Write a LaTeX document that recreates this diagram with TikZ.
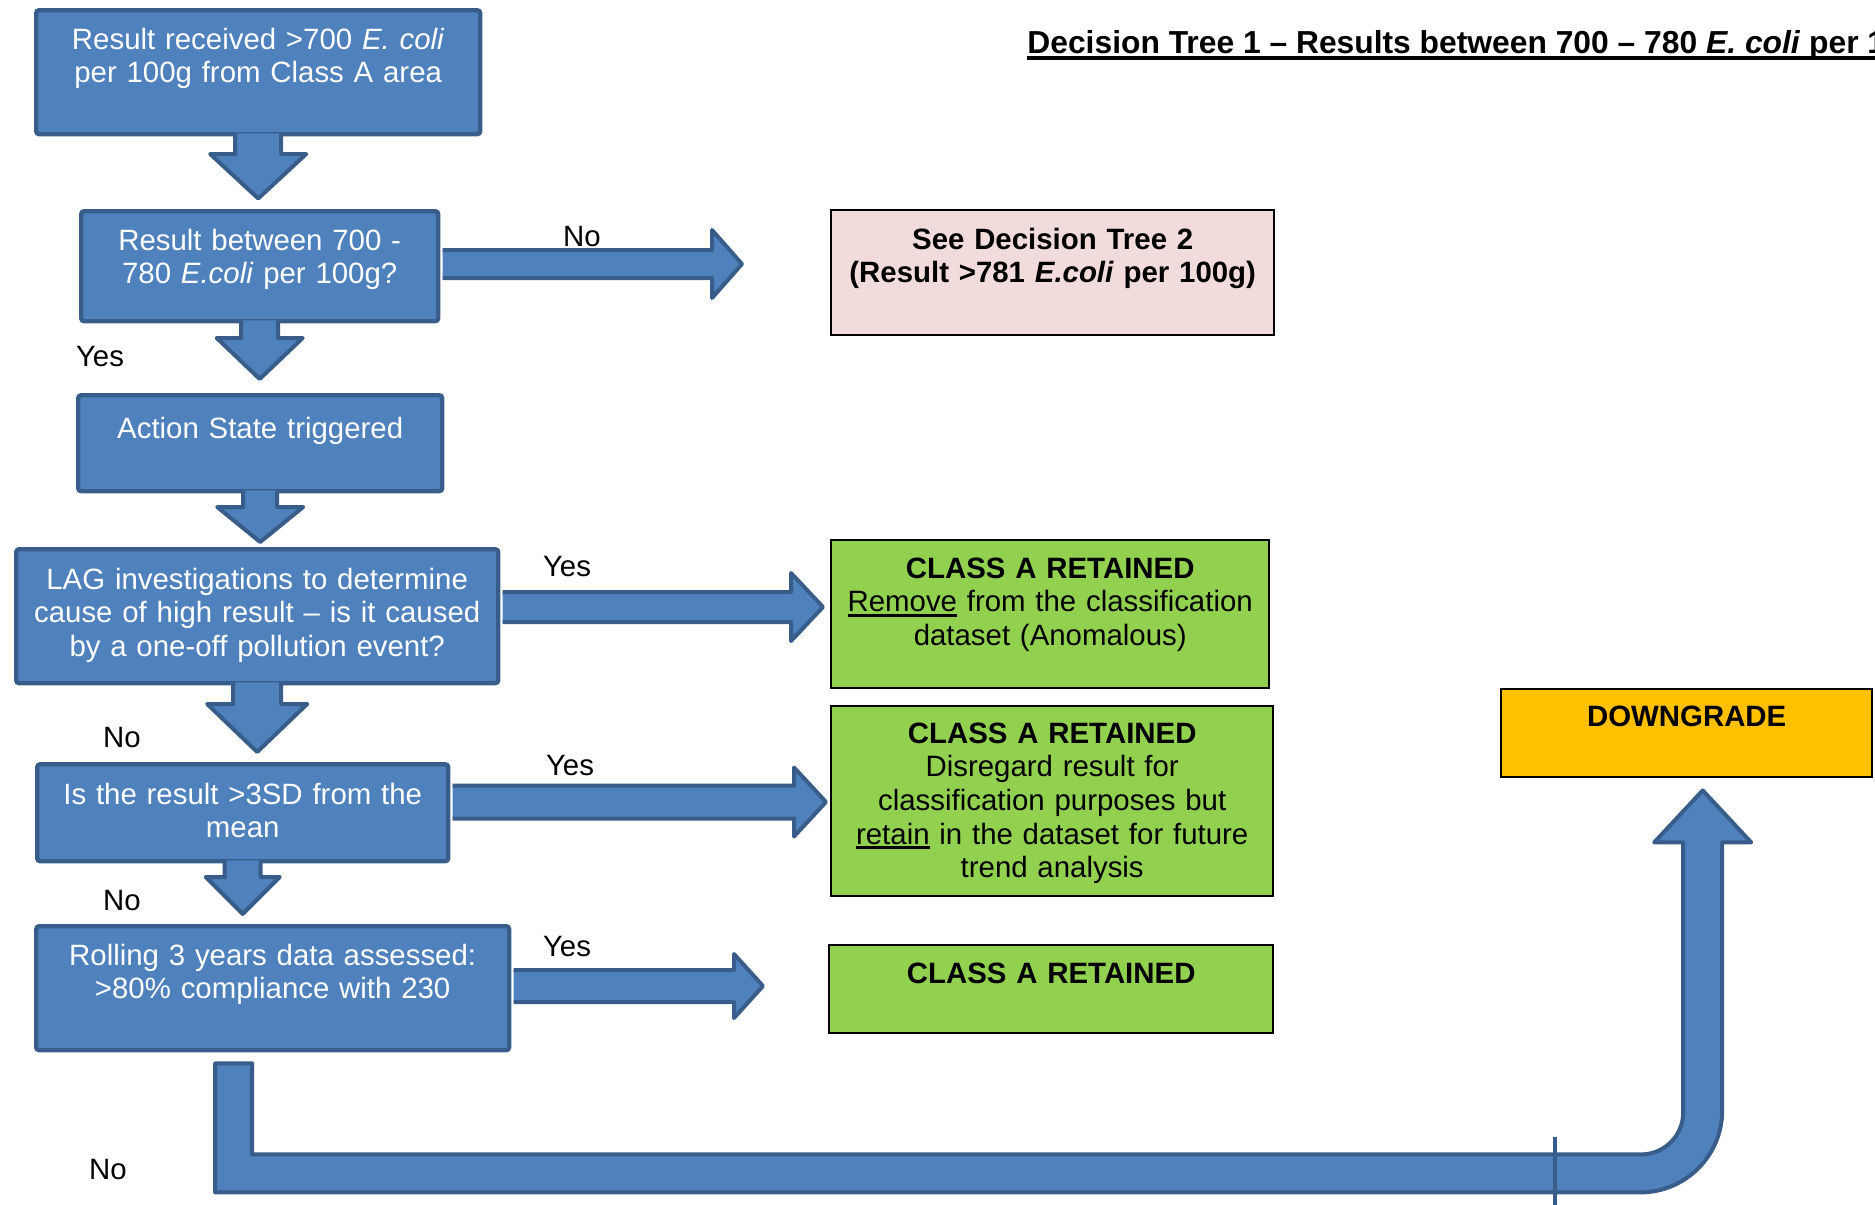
\documentclass[tikz,border=0pt]{standalone}
\usepackage{fontspec}
\setmainfont{Liberation Sans}
\usepackage{tikz}
\usetikzlibrary{calc}
\definecolor{boxblue}{HTML}{4F81BD}
\definecolor{lineblue}{HTML}{385D8A}
\definecolor{pinkfill}{HTML}{F2DCDB}
\definecolor{greenfill}{HTML}{92D050}
\definecolor{amber}{HTML}{FFC000}

\newcommand{\ulined}[1]{\leavevmode\setbox0\hbox{#1}\rlap{\rule[-2.4pt]{\wd0}{1.2pt}}\box0\relax}

% block arrow down: from, tip, shaft half, head half, head length
\newcommand{\blockdown}[5]{%
  \fill[boxblue] let \p1=([yshift=1.5pt]#1.south), \p2=(#2) in
    (\x1-#3,\y1) -- (\x1-#3,\y2+#5) -- (\x1-#4,\y2+#5) -- (\x1,\y2)
    -- (\x1+#4,\y2+#5) -- (\x1+#3,\y2+#5) -- (\x1+#3,\y1) -- cycle;
  \draw[blockedge] let \p1=([yshift=1.5pt]#1.south), \p2=(#2) in
    (\x1-#3,\y1) -- (\x1-#3,\y2+#5) -- (\x1-#4,\y2+#5) -- (\x1,\y2)
    -- (\x1+#4,\y2+#5) -- (\x1+#3,\y2+#5) -- (\x1+#3,\y1);
}
% block arrow right: from, tip, shaft half, head half, head length
\newcommand{\blockright}[5]{%
  \fill[boxblue] let \p1=([xshift=1.1pt]#1.east), \p2=(#2) in
    (\x1,\y2+#3) -- (\x2-#5,\y2+#3) -- (\x2-#5,\y2+#4) -- (\x2,\y2)
    -- (\x2-#5,\y2-#4) -- (\x2-#5,\y2-#3) -- (\x1,\y2-#3) -- cycle;
  \draw[blockedge] let \p1=([xshift=1.1pt]#1.east), \p2=(#2) in
    (\x1,\y2+#3) -- (\x2-#5,\y2+#3) -- (\x2-#5,\y2+#4) -- (\x2,\y2)
    -- (\x2-#5,\y2-#4) -- (\x2-#5,\y2-#3) -- (\x1,\y2-#3);
}

\begin{document}
\begin{tikzpicture}[x=0.5pt,y=-0.5pt]
    \useasboundingbox (0,0) rectangle (1875,1205);
    \clip (0,0) rectangle (1875,1205);

    \tikzstyle{flow}=[draw=lineblue,fill=boxblue,line width=2.2pt,rounded corners=1.5pt,text=white,inner sep=0pt,align=center,anchor=north west,font=\fontsize{14.7}{16.8}\selectfont]
    \tikzstyle{outcome}=[draw=black,line width=1.2pt,text=black,inner sep=0pt,align=center,anchor=north west,font=\fontsize{14.7}{16.8}\selectfont]
    \tikzstyle{lbl}=[inner sep=0pt,text height=10.5pt,text depth=0pt,font=\fontsize{14.7}{16.8}\selectfont]
    \tikzstyle{blockedge}=[draw=lineblue,line width=2pt,line join=round]

    \node[font=\fontsize{15.9}{19}\selectfont\bfseries,inner sep=0pt,anchor=base west] (title) at (1027,53)
        {Decision Tree 1 – Results between 700 – 780 \textit{E. coli} per 100g};
    \draw[line width=1.9pt] ([yshift=-2.5pt]title.base west) -- ([yshift=-2.5pt]title.base east);

    \node[flow,text width=222pt,text height=19.5pt,text depth=42.5pt] (recv) at (34,8)
        {Result received >700 \textit{E. coli}\\per 100g from Class A area};
    \node[flow,text width=178.5pt,text height=19.5pt,text depth=35.5pt] (between) at (79,209)
        {Result between 700 -\\780 \textit{E.coli} per 100g?};
    \node[flow,text width=182pt,text height=21.5pt,text depth=26.5pt] (action) at (76,393)
        {Action State triggered};
    \node[flow,text width=241pt,text height=20pt,text depth=47pt] (lag) at (14,547)
        {LAG investigations to determine\\cause of high result – is it caused\\by a one-off pollution event?};
    \node[flow,text width=205.5pt,text height=20pt,text depth=28.5pt] (sd) at (35,762)
        {Is the result >3SD from the\\mean};
    \node[flow,text width=236.5pt,text height=19.5pt,text depth=42.5pt] (rolling) at (34,924)
        {Rolling 3 years data assessed:\\>80\% compliance with 230};

    \node[outcome,fill=pinkfill,text width=221.5pt,text height=19.5pt,text depth=43pt] (tree2) at (830,209)
        {\bfseries See Decision Tree 2\\\bfseries(Result >781 \textit{E.coli} per 100g)};
    \node[outcome,fill=greenfill,text width=219pt,text height=19pt,text depth=55pt] (keepA) at (830,539)
        {\textbf{CLASS A RETAINED}\\\ulined{Remove} from the classification\\dataset (Anomalous)};
    \node[outcome,fill=greenfill,text width=221pt,text height=18.5pt,text depth=76.5pt] (keepB) at (830,705)
        {\textbf{CLASS A RETAINED}\\Disregard result for\\classification purposes but\\\ulined{retain} in the dataset for future\\trend analysis};
    \node[outcome,fill=greenfill,text width=222pt,text height=19pt,text depth=25pt] (keepC) at (828,944)
        {\textbf{CLASS A RETAINED}};
    \node[outcome,fill=amber,text width=185.5pt,text height=18.5pt,text depth=25.5pt] (down) at (1500,688)
        {\textbf{DOWNGRADE}};

    \coordinate (noTip) at (742,264);
    \coordinate (yesTipA) at (823,607);
    \coordinate (yesTipB) at (826,802);
    \coordinate (yesTipC) at (763,986);
    \coordinate (uStart) at ([xshift=-19.5pt,yshift=-5.5pt]rolling.south);
    \coordinate (uTip) at ([xshift=8pt,yshift=-6pt]down.south);

    \blockdown{recv}{[yshift=5.25pt]between.north}{11.5pt}{24pt}{22.25pt}
    \blockdown{between}{[yshift=7pt]action.north}{9.25pt}{21.5pt}{20.5pt}
    \blockdown{action}{[yshift=2.5pt]lag.north}{8.5pt}{21.5pt}{17.5pt}
    \blockdown{lag}{[yshift=5pt]sd.north}{12pt}{25pt}{24pt}
    \blockdown{sd}{[yshift=5pt]rolling.north}{9pt}{18.5pt}{18.5pt}

    \blockright{between}{noTip}{7pt}{17pt}{15pt}
    \blockright{lag}{yesTipA}{7.5pt}{17pt}{16pt}
    \blockright{sd}{yesTipB}{8.25pt}{17.25pt}{16pt}
    \blockright{rolling}{yesTipC}{8pt}{16pt}{14.5pt}

    % long bent arrow to DOWNGRADE
    \filldraw[fill=boxblue,blockedge] let \p1=(uStart), \p2=(uTip) in
        (\x1-9.25pt,\y1) -- (\x1-9.25pt,\y1-64.5pt) -- (\x2+9.75pt-41pt,\y1-64.5pt)
        arc[start angle=-90,end angle=0,radius=41pt]
        -- (\x2+9.75pt,\y2-26pt) -- (\x2+24.25pt,\y2-26pt) -- (\x2,\y2)
        -- (\x2-24.25pt,\y2-26pt) -- (\x2-9.75pt,\y2-26pt) -- (\x2-9.75pt,\y1-24.5pt)
        arc[start angle=0,end angle=-90,radius=21pt]
        -- (\x1+9.25pt,\y1-45.5pt) -- (\x1+9.25pt,\y1) -- cycle;
    \draw[blockedge] let \p1=(uStart) in
        (\x1+660.75pt,\y1-37pt) -- (\x1+660.75pt,\y1-72pt);

    \node[lbl] (noA) at (582,236) {No};
    \node[lbl] (yesA) at (100,356) {Yes};
    \node[lbl] (yesB) at (567,566) {Yes};
    \node[lbl] (noB) at (122,737) {No};
    \node[lbl] (yesC) at (570,765) {Yes};
    \node[lbl] (noC) at (122,900) {No};
    \node[lbl] (yesD) at (567,946) {Yes};
    \node[lbl] (noD) at (108,1169) {No};
\end{tikzpicture}
\end{document}
